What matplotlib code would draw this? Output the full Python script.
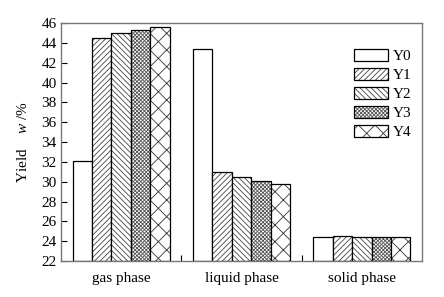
import matplotlib
matplotlib.use("Agg")
import matplotlib.pyplot as plt
import numpy as np

categories = ["gas phase", "liquid phase", "solid phase"]
series = ["Y0", "Y1", "Y2", "Y3", "Y4"]
Y0 = [32.1, 43.35, 24.4]
Y1 = [44.45, 30.95, 24.5]
Y2 = [45.03, 30.45, 24.4]
Y3 = [45.33, 30.07, 24.47]
Y4 = [45.63, 29.77, 24.45]
values = [Y0, Y1, Y2, Y3, Y4]
hatches = ["", "/" * 6, "\\" * 6, "x" * 9, "xx"]
hatch_colors = ["#000000", "#444444", "#444444", "#555555", "#333333"]
yticks = list(range(22, 47, 2))

plt.rcParams['font.family'] = ['Liberation Serif', 'DejaVu Serif']
plt.rcParams['mathtext.fontset'] = 'custom'
plt.rcParams['mathtext.rm'] = 'Liberation Serif'
plt.rcParams['mathtext.it'] = 'Liberation Serif:italic'
plt.rcParams['hatch.linewidth'] = 0.6
plt.rcParams['font.size'] = 11

fig = plt.figure(figsize=(4.44, 2.97), dpi=100)
ax = fig.add_axes([61/444, 1 - 261/297, (422-61)/444, (261-23)/297])

x = np.arange(len(categories))
w = 0.161
handles = []
for i, (name, vals) in enumerate(zip(series, values)):
    h1 = ax.bar(x + (i - 2) * w, np.array(vals) - 22, bottom=22, width=w,
                facecolor="white", edgecolor=hatch_colors[i], hatch=hatches[i],
                linewidth=0)
    h2 = ax.bar(x + (i - 2) * w, np.array(vals) - 22, bottom=22, width=w,
                facecolor="none", edgecolor="black", linewidth=0.9)
    handles.append((h1, h2))

ax.set_xlim(-0.5, 2.5)
ax.set_ylim(22, 46)
ax.set_yticks(yticks)
ax.set_xticks(x)
ax.set_xticklabels(categories)
ax.set_xticks([0.5, 1.5], minor=True)
ax.tick_params(axis='x', which='major', length=0, pad=8)
ax.tick_params(axis='x', which='minor', direction='in', length=4, width=0.8)
ax.tick_params(axis='y', direction='in', length=4, width=0.8, pad=3)
for s in ax.spines.values():
    s.set_color("#777777")
    s.set_linewidth(1.0)

ax.set_ylabel(r"Yield    $\mathit{w}$ /%", labelpad=8)

leg = ax.legend(handles, series, loc="upper left",
                bbox_to_anchor=((354-61)/361, (261-49)/238),
                frameon=False, handlelength=2.2, handleheight=0.85,
                handletextpad=0.35, labelspacing=0.3, borderaxespad=0,
                borderpad=0)

fig.savefig("out.png", dpi=100)
